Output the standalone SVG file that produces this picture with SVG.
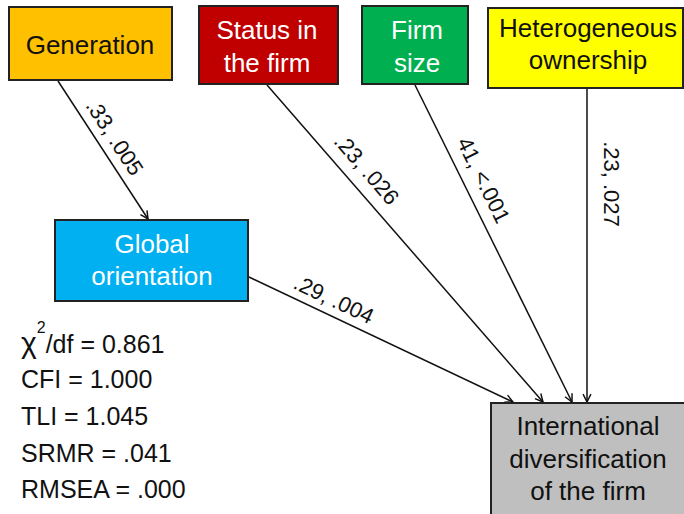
<svg xmlns="http://www.w3.org/2000/svg" width="684" height="514" viewBox="0 0 684 514">
<style>
.box{stroke:#222;stroke-width:2}
.t{font-family:"Liberation Sans",Arial,sans-serif;font-size:26px;text-anchor:middle}
.w{fill:#fff}
.k{fill:#111}
.lbl{font-family:"Liberation Sans",Arial,sans-serif;font-size:22px;text-anchor:middle;fill:#111}
.st{font-family:"Liberation Sans",Arial,sans-serif;font-size:25px;fill:#111}
.c{stroke:#111;stroke-width:1.5;fill:none;marker-end:url(#ah)}
</style>
<defs>
<marker id="ah" viewBox="0 0 10 10" refX="9" refY="5" markerWidth="6.5" markerHeight="6.5" orient="auto" markerUnits="strokeWidth">
<path d="M1,1 L9,5 L1,9" fill="none" stroke="#111" stroke-width="1.5"/>
</marker>
</defs>
<rect width="684" height="514" fill="#fff"/>
<g id="connectors">
<line class="c" x1="58" y1="81" x2="148" y2="219"/>
<line class="c" x1="267" y1="85" x2="543" y2="402"/>
<line class="c" x1="415" y1="85" x2="572" y2="402"/>
<line class="c" x1="587" y1="89" x2="587" y2="402"/>
<line class="c" x1="249" y1="277" x2="513" y2="402"/>
<text class="lbl" transform="translate(115,137) rotate(57)" y="8">.33, .005</text>
<text class="lbl" transform="translate(367,169) rotate(49)" y="8">.23, .026</text>
<text class="lbl" transform="translate(484,180) rotate(63.8)" y="8">41, &lt;.001</text>
<text class="lbl" transform="translate(612,184) rotate(90)" y="8">.23, .027</text>
<text class="lbl" transform="translate(334,299) rotate(25.4)" y="8">.29, .004</text>
</g>
<g id="generation">
<rect class="box" x="9" y="7" width="163" height="73" fill="#FFC000"/>
<text class="t k" x="90" y="54">Generation</text>
</g>
<g id="status">
<rect class="box" x="199" y="6" width="139" height="78" fill="#C00000"/>
<text class="t w" x="267" y="39">Status in</text>
<text class="t w" x="267" y="72">the firm</text>
</g>
<g id="firmsize">
<rect class="box" x="362" y="6" width="106" height="78" fill="#00B050"/>
<text class="t w" x="417" y="39">Firm</text>
<text class="t w" x="417" y="72">size</text>
</g>
<g id="heterogeneous">
<rect class="box" x="488" y="8" width="195" height="80" fill="#FFFF00"/>
<text class="t k" x="588" y="37">Heterogeneous</text>
<text class="t k" x="588" y="69">ownership</text>
</g>
<g id="global">
<rect class="box" x="55" y="220" width="193" height="81" fill="#00B0F0"/>
<text class="t w" x="152" y="253">Global</text>
<text class="t w" x="152" y="285">orientation</text>
</g>
<g id="international">
<rect class="box" x="491" y="403" width="200" height="120" fill="#BFBFBF"/>
<text class="t k" x="588" y="435">International</text>
<text class="t k" x="588" y="468">diversification</text>
<text class="t k" x="588" y="500">of the firm</text>
</g>
<g id="fit">
<text class="st" x="21" y="353"><tspan font-size="30">χ</tspan><tspan font-size="16" dy="-20">2</tspan><tspan dy="20">/df = 0.861</tspan></text>
<text class="st" x="21" y="388">CFI = 1.000</text>
<text class="st" x="21" y="425">TLI = 1.045</text>
<text class="st" x="21" y="462">SRMR = .041</text>
<text class="st" x="21" y="498">RMSEA = .000</text>
</g>
</svg>
